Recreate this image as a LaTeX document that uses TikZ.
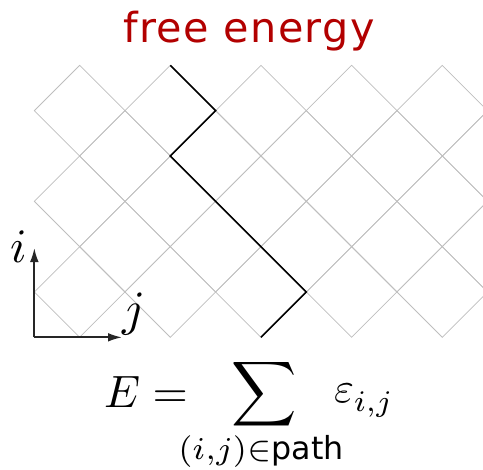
\documentclass[tikz,border=0pt]{standalone}
\usepackage{fontspec}
\newfontfamily\titlefont[LetterSpace=3.5]{DejaVu Sans}
\newfontfamily\pathfont{DejaVu Sans}
\usetikzlibrary{arrows.meta}
\definecolor{titlered}{RGB}{178,0,0}
\definecolor{gridgray}{RGB}{190,190,190}
\begin{document}
\begin{tikzpicture}[x=0.75pt,y=-0.75pt,
  gridline/.style={draw=gridgray,line width=0.55pt},
  pathline/.style={draw=black,line width=1.2pt,line join=miter},
  axisline/.style={draw=black!85,line width=1.3pt,-{Latex[length=10.5pt,width=6.5pt]}},
  lbl/.style={inner sep=0pt,outer sep=0pt}]
\useasboundingbox (0,0) rectangle (483,469);
\begin{scope}
\clip (0,0) rectangle (483,469);
\foreach \m in {1,...,5}{
  \foreach \k in {1,...,11}{
    \pgfmathtruncatemacro\kmpar{mod(\k+\m,2)}
    \ifnum\kmpar=0
      \draw[gridline] ({34.33+45.33*(\k-1)},{65.33+45.33*\m}) -- ++(45.33,-45.33) -- ++(45.33,45.33) -- ++(-45.33,45.33) -- cycle;
    \fi
  }}
\end{scope}
% path
\coordinate (p0) at (170.33,65.33);
\coordinate (p1) at (215.67,110.67);
\coordinate (p2) at (170.33,156);
\coordinate (p3) at (306.33,292);
\coordinate (p4) at (261,337.33);
\draw[pathline] (p0) -- (p1) -- (p2) -- (p3) -- (p4);
% axes
\coordinate (o) at (34.33,337.33);
\coordinate (itip) at (34.33,248);
\coordinate (jtip) at (122,337.33);
\draw[axisline] (o) -- (itip);
\draw[axisline] (o) -- (jtip);
\node[lbl,scale=3.6] (ilabel) at (18.5,247) {$i$};
\node[lbl,scale=3.7] (jlabel) at (134,314) {$j$};
% title
\node[lbl,anchor=base,text=titlered,font=\titlefont\fontsize{31}{36}\selectfont] (title) at (249,42.7) {free energy};
% formula
\node[lbl,anchor=base west,scale=3.4] (eq) at (104,407) {$E =$};
\node[lbl,scale=3.4] (sum) at (264,394) {$\displaystyle\sum$};
\node[lbl,anchor=base west,scale=3.2] (eps) at (334,402) {$\varepsilon_{\lower0.8pt\hbox{$\scriptstyle i,j$}}$};
\node[lbl,scale=3.4] (lim) at (261,451) {$\scriptstyle(i,j)\in$\fontsize{7}{8}\selectfont\pathfont path};
\end{tikzpicture}
\end{document}
